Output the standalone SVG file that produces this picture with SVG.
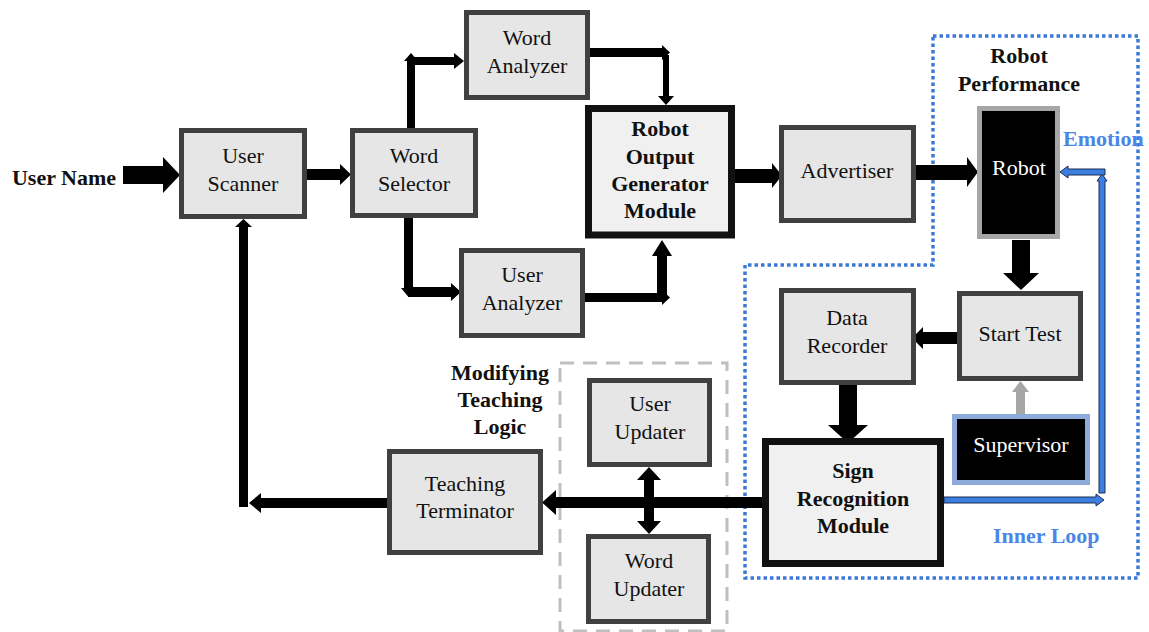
<svg xmlns="http://www.w3.org/2000/svg" width="1149" height="632" viewBox="0 0 1149 632">
<style>
.box{fill:#e6e6e6;stroke:#404040;stroke-width:5}
.bold{fill:#f0f0f0;stroke:#111;stroke-width:7}
.t{font-family:'Liberation Serif','Times New Roman','DejaVu Serif',serif;font-size:22px;fill:#111;text-anchor:middle}
.b{font-weight:bold}
.w{fill:#fff}
.k{fill:#000}
.g{fill:#a6a6a6}
.bl{fill:#3d7fe0;stroke:#1d2f55;stroke-width:1}
</style>
<rect width="1149" height="632" fill="#fff"/>
<g id="robot-performance-region">
<path d="M933,36 H1138 V578 H745 V265 H933 Z" fill="none" stroke="#3c78d8" stroke-width="3.5" stroke-dasharray="3.5 3"/>
<text class="t b" x="1019" y="63">Robot</text>
<text class="t b" x="1019" y="91">Performance</text>
</g>
<g id="modifying-teaching-logic">
<rect x="560" y="363" width="167" height="268" fill="none" stroke="#bfbfbf" stroke-width="3" stroke-dasharray="14 9"/>
<text class="t b" x="500" y="380">Modifying</text>
<text class="t b" x="500" y="407">Teaching</text>
<text class="t b" x="500" y="434">Logic</text>
</g>
<g id="connectors">
<polygon class="k" points="123,166 163,166 163,157 180,175 163,193 163,184 123,184"/>
<polygon class="k" points="307,169 340,169 340,164 351,174.5 340,185 340,180 307,180"/>
<polygon class="k" points="407,128 407,61 404,61 411,53 418,61 415,61 415,128"/>
<polygon class="k" points="411,57 454,57 454,53 464,61 454,69 454,65 411,65"/>
<polygon class="k" points="404,218 404,288 401,288 408.5,297 416,288 413,288 413,218"/>
<polygon class="k" points="408,287 451,287 451,283 461,292 451,301 451,297 408,297"/>
<polygon class="k" points="590,48 662,48 662,45 670,52.5 662,60 662,57 590,57"/>
<polygon class="k" points="663,55 669,55 669,96 674,96 666,105 658,96 663,96"/>
<polygon class="k" points="585,293 662,293 662,290 670,297.5 662,305 662,302 585,302"/>
<polygon class="k" points="657,299 657,256 652,256 662,240 672,256 667,256 667,299"/>
<polygon class="k" points="735,169 772,169 772,163 782,175.5 772,188 772,183 735,183"/>
<polygon class="k" points="916,165 967,165 967,157 978,172 967,187 967,180 916,180"/>
<polygon class="k" points="1012,240 1030,240 1030,273 1039,273 1021,290 1003,273 1012,273"/>
<polygon class="k" points="957,332 923,332 923,327 912,338 923,349 923,344 957,344"/>
<polygon class="k" points="839,385 857,385 857,425 868,425 848,443 828,425 839,425"/>
<polygon class="g" points="1016,414 1016,392 1012,392 1020.5,381 1029,392 1025,392 1025,414"/>
<polygon class="bl" points="944,497 1096,497 1096,494 1104,500 1096,506 1096,503 944,503"/>
<polygon class="bl" points="1099,493 1099,181 1097,181 1102,174 1107,181 1105,181 1105,493"/>
<polygon class="bl" points="1105,169 1105,175 1068,175 1068,178 1060,172 1068,166 1068,169"/>
<polygon class="k" points="762,497 556,497 556,490 542,502.5 556,515 556,508 762,508"/>
<polygon class="k" points="644,480 637,480 649,467 661,480 654,480 654,521 661,521 649,534 637,521 644,521"/>
<polygon class="k" points="388,498 261,498 261,493 249,503 261,513 261,508 388,508"/>
<polygon class="k" points="239,507 239,227 235,227 243.5,219 252,227 248,227 248,507"/>
</g>
<g id="user-name"><text class="t b" x="64" y="185">User Name</text></g>
<g id="user-scanner">
<rect class="box" x="181.5" y="130.5" width="123" height="86"/>
<text class="t" x="243" y="163">User</text><text class="t" x="243" y="191">Scanner</text>
</g>
<g id="word-selector">
<rect class="box" x="352.5" y="130.5" width="123" height="85"/>
<text class="t" x="414" y="163">Word</text><text class="t" x="414" y="191">Selector</text>
</g>
<g id="word-analyzer">
<rect class="box" x="466.5" y="12.5" width="121" height="85"/>
<text class="t" x="527" y="45">Word</text><text class="t" x="527" y="73">Analyzer</text>
</g>
<g id="user-analyzer">
<rect class="box" x="461.5" y="250.5" width="121" height="85"/>
<text class="t" x="522" y="282">User</text><text class="t" x="522" y="310">Analyzer</text>
</g>
<g id="robot-output-generator">
<rect class="bold" x="588.5" y="108.5" width="143" height="126.5"/>
<text class="t b" x="660" y="136">Robot</text>
<text class="t b" x="660" y="164">Output</text>
<text class="t b" x="660" y="191">Generator</text>
<text class="t b" x="660" y="218">Module</text>
</g>
<g id="advertiser">
<rect class="box" x="781.5" y="127.5" width="132" height="93"/>
<text class="t" x="847" y="178">Advertiser</text>
</g>
<g id="robot">
<rect x="979.5" y="108.5" width="78" height="128" fill="#000" stroke="#a6a6a6" stroke-width="5"/>
<text class="t w" x="1019" y="175">Robot</text>
</g>
<g id="emotion-label"><text class="t b" x="1063" y="146" style="text-anchor:start;fill:#4a86e8">Emotion</text></g>
<g id="start-test">
<rect class="box" x="959.5" y="293.5" width="121" height="85"/>
<text class="t" x="1020" y="341">Start Test</text>
</g>
<g id="data-recorder">
<rect class="box" x="781.5" y="290.5" width="132" height="92"/>
<text class="t" x="847" y="325">Data</text><text class="t" x="847" y="353">Recorder</text>
</g>
<g id="supervisor">
<rect x="954.5" y="416.5" width="133" height="66" fill="#000" stroke="#8eaadb" stroke-width="5"/>
<text class="t w" x="1021" y="452">Supervisor</text>
</g>
<g id="sign-recognition">
<rect class="bold" x="765.5" y="441.5" width="175" height="122"/>
<text class="t b" x="853" y="478">Sign</text>
<text class="t b" x="853" y="506">Recognition</text>
<text class="t b" x="853" y="533">Module</text>
</g>
<g id="inner-loop-label"><text class="t b" x="993" y="543" style="text-anchor:start;fill:#4a86e8">Inner Loop</text></g>
<g id="user-updater">
<rect class="box" x="589.5" y="380.5" width="120" height="84"/>
<text class="t" x="650" y="411">User</text><text class="t" x="650" y="439">Updater</text>
</g>
<g id="word-updater">
<rect class="box" x="588.5" y="536.5" width="120" height="85"/>
<text class="t" x="649" y="568">Word</text><text class="t" x="649" y="596">Updater</text>
</g>
<g id="teaching-terminator">
<rect class="box" x="389.5" y="451.5" width="151" height="101"/>
<text class="t" x="465" y="491">Teaching</text><text class="t" x="465" y="518">Terminator</text>
</g>
</svg>
